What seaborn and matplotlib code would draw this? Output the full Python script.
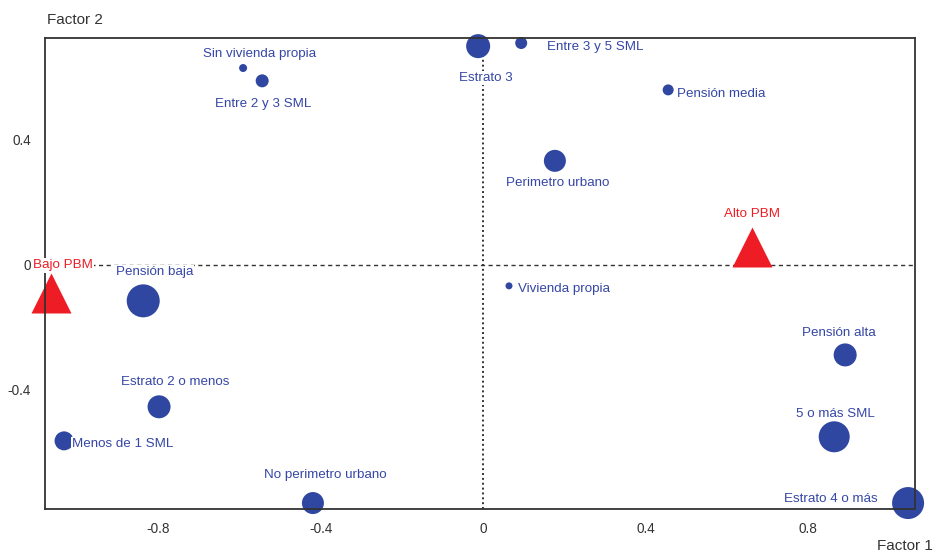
import matplotlib
matplotlib.use("Agg")
import matplotlib.pyplot as plt
import seaborn as sns
import pandas as pd

# Category coordinates on the first two factors and their relative mass (marker diameter, px)
categorias = ["Sin vivienda propia", "Entre 2 y 3 SML", "Estrato 3", "Entre 3 y 5 SML",
              "Pensión media", "Perimetro urbano", "Vivienda propia", "Pensión baja",
              "Pensión alta", "Estrato 2 o menos", "Menos de 1 SML", "5 o más SML",
              "No perimetro urbano", "Estrato 4 o más"]
factor1 = [-0.591, -0.544, -0.012, 0.094, 0.456, 0.177, 0.064, -0.837,
           0.892, -0.798, -1.032, 0.865, -0.419, 1.047]
factor2 = [0.630, 0.589, 0.700, 0.710, 0.560, 0.333, -0.067, -0.115,
           -0.288, -0.454, -0.563, -0.550, -0.762, -0.762]
masa = [8, 13, 24, 12, 11, 22, 7, 33, 23, 23, 19, 31, 22, 32]

# Supplementary (PBM) categories
pbm = ["Alto PBM", "Bajo PBM"]
pbm_f1 = [0.663, -1.064]
pbm_f2 = [0.058, -0.090]

xticks = [-0.8, -0.4, 0, 0.4, 0.8]
yticks = [-0.4, 0, 0.4]
xtick_labels = ["-0.8", "-0.4", "0", "0.4", "0.8"]
ytick_labels = ["-0.4", "0", "0.4"]

# label placement: (dx, dy) in points from the marker, horizontal alignment
offsets = {
    "Sin vivienda propia": (12, 10, "center"),
    "Entre 2 y 3 SML": (1, -16.5, "center"),
    "Estrato 3": (5.8, -23, "center"),
    "Entre 3 y 5 SML": (18.7, -3.2, "left"),
    "Pensión media": (6.5, -2.6, "left"),
    "Perimetro urbano": (2.2, -15.8, "center"),
    "Vivienda propia": (6.5, -2, "left"),
    "Pensión baja": (8, 20.5, "center"),
    "Pensión alta": (-4.3, 15.5, "center"),
    "Estrato 2 o menos": (11.5, 18, "center"),
    "Menos de 1 SML": (6, -2.6, "left"),
    "5 o más SML": (0.7, 16.5, "center"),
    "No perimetro urbano": (8.6, 20, "center"),
    "Estrato 4 o más": (-22, 3, "right"),
}
pbm_offsets = {
    "Alto PBM": (0, 23.5, "center"),
    "Bajo PBM": (-13, 20, "left"),
}

sns.set_theme(style="white")
plt.rcParams["font.family"] = ["Liberation Sans", "DejaVu Sans"]

azul = "#2f47a0"
texto_azul = "#3546a6"
rojo = "#ee1c25"
gris = "#333333"

fig = plt.figure(figsize=(9.35, 5.55), dpi=100)
ax = fig.add_axes([0.0481, 0.0829, 0.9305, 0.8486])

df = pd.DataFrame({"f1": factor1, "f2": factor2,
                   "area": [(d * 0.72) ** 2 for d in masa], "cat": categorias})
amin, amax = df["area"].min(), df["area"].max()
sns.scatterplot(data=df, x="f1", y="f2", size="area", sizes=(amin, amax),
                size_norm=(amin, amax), color=azul, edgecolor=azul, linewidth=0,
                legend=False, ax=ax, zorder=4, clip_on=False)

dfp = pd.DataFrame({"f1": pbm_f1, "f2": pbm_f2, "cat": pbm})
sns.scatterplot(data=dfp, x="f1", y="f2", marker="^", s=(40 * 0.72) ** 2,
                color=rojo, edgecolor=rojo, linewidth=0, legend=False, ax=ax,
                zorder=4, clip_on=False)

ax.axhline(0, color=gris, lw=1.0, ls=(0, (3, 2.5)), zorder=1)
ax.axvline(0, color=gris, lw=1.4, ls=(0, (1, 1.5)), zorder=1)

bbox = dict(boxstyle="square,pad=0.1", fc="white", ec="none")
for c, x, y in zip(categorias, factor1, factor2):
    dx, dy, ha = offsets[c]
    ax.annotate(c, (x, y), xytext=(dx, dy), textcoords="offset points",
                ha=ha, va="center", fontsize=9.6, color=texto_azul, bbox=bbox,
                zorder=6, annotation_clip=False)
for c, x, y in zip(pbm, pbm_f1, pbm_f2):
    dx, dy, ha = pbm_offsets[c]
    ax.annotate(c, (x, y), xytext=(dx, dy), textcoords="offset points",
                ha=ha, va="center", fontsize=9.6, color=rojo, bbox=bbox,
                zorder=6, annotation_clip=False)

ax.set_xlim(-1.079, 1.064)
ax.set_ylim(-0.781, 0.726)
ax.set_xticks(xticks)
ax.set_xticklabels(xtick_labels)
ax.set_yticks(yticks)
ax.set_yticklabels(ytick_labels)
ax.tick_params(axis="both", direction="inout", length=9, width=1.2, color=gris,
               labelsize=9.8, labelcolor=gris)
ax.tick_params(axis="x", pad=5)
ax.tick_params(axis="y", pad=5.5)
ax.set_xlabel("")
ax.set_ylabel("")
for s in ax.spines.values():
    s.set_color(gris)
    s.set_linewidth(1.3)
    s.set_zorder(5)

fig.text(47 / 935, 1 - 20 / 555, "Factor 2", fontsize=11, color=gris, va="center", ha="left")
fig.text(933 / 935, 1 - 546 / 555, "Factor 1", fontsize=11, color=gris, va="center", ha="right")

fig.savefig("out.png", dpi=100, facecolor="white")
